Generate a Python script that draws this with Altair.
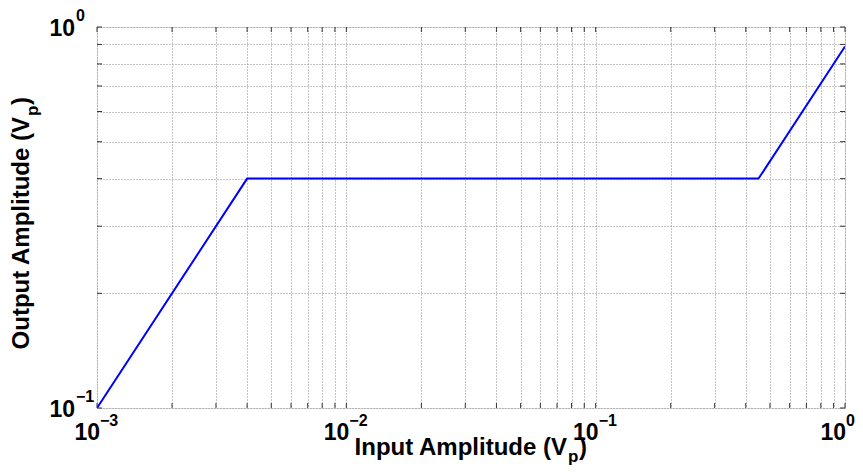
import altair as alt
import pandas as pd

# curve
x_vals = [0.001, 0.004, 0.45, 1.0]
y_vals = [0.1, 0.4, 0.4, 0.889]

# grid / tick positions
x_grid = [0.001, 0.002, 0.003, 0.004, 0.005, 0.006, 0.007, 0.008, 0.009,
          0.01, 0.02, 0.03, 0.04, 0.05, 0.06, 0.07, 0.08, 0.09,
          0.1, 0.2, 0.3, 0.4, 0.5, 0.6, 0.7, 0.8, 0.9, 1.0]
y_grid = [0.1, 0.2, 0.3, 0.4, 0.5, 0.6, 0.7, 0.8, 0.9, 1.0]

# tick labels (base 10 with exponent)
x_lab_neg = [0.001, 0.01, 0.1]
x_exp_neg = ["\u22123", "\u22122", "\u22121"]
x_lab_zero = [1.0]
x_exp_zero = ["0"]
y_lab = [0.1, 1.0]
y_exp = ["\u22121", "0"]

# axis titles (main part, subscript, closing bracket)
x_title = ["Input Amplitude (V", "p", ")"]
y_title = ["Output Amplitude (V", "p", ")"]

W, H = 748, 381
FONT = "Liberation Sans"

line_df = pd.DataFrame({"x": x_vals, "y": y_vals})
xs = alt.Scale(type="log", domain=[0.001, 1.0], nice=False)
ys = alt.Scale(type="log", domain=[0.1, 1.0], nice=False)

grid_style = dict(labels=False, ticks=False, domain=False, grid=True,
                  gridColor="#8a8a8a", gridDash=[1, 2], gridWidth=1, title=None)
x_axis = alt.Axis(values=x_grid, **grid_style)
y_axis = alt.Axis(values=y_grid, **grid_style)

line = alt.Chart(line_df).mark_line(color="#0000ff", strokeWidth=2, clip=True).encode(
    x=alt.X("x:Q", scale=xs, axis=x_axis),
    y=alt.Y("y:Q", scale=ys, axis=y_axis),
)

xg = pd.DataFrame({"x": x_grid})
yg = pd.DataFrame({"y": y_grid})
tick_style = dict(color="#333333", strokeWidth=1)
xt_bot = alt.Chart(xg).mark_rule(**tick_style).encode(
    x=alt.X("x:Q", scale=xs), y=alt.value(H - 5), y2=alt.value(H))
xt_top = alt.Chart(xg).mark_rule(**tick_style).encode(
    x=alt.X("x:Q", scale=xs), y=alt.value(0), y2=alt.value(5))
yt_left = alt.Chart(yg).mark_rule(**tick_style).encode(
    y=alt.Y("y:Q", scale=ys), x=alt.value(0), x2=alt.value(5))
yt_right = alt.Chart(yg).mark_rule(**tick_style).encode(
    y=alt.Y("y:Q", scale=ys), x=alt.value(W - 5), x2=alt.value(W))

base_txt = dict(font=FONT, fontWeight="bold", color="black")
BIG, EXP = 23, 16

xneg = pd.DataFrame({"x": x_lab_neg, "e": x_exp_neg, "b": ["10"] * 3})
xzero = pd.DataFrame({"x": x_lab_zero, "e": x_exp_zero, "b": ["10"]})

xl_neg_b = alt.Chart(xneg).mark_text(align="right", baseline="alphabetic", fontSize=BIG, dx=3, **base_txt).encode(
    x=alt.X("x:Q", scale=xs), y=alt.value(H + 32), text="b:N")
xl_neg_e = alt.Chart(xneg).mark_text(align="left", baseline="alphabetic", fontSize=EXP, dx=3, **base_txt).encode(
    x=alt.X("x:Q", scale=xs), y=alt.value(H + 18), text="e:N")
xl_zero_b = alt.Chart(xzero).mark_text(align="right", baseline="alphabetic", fontSize=BIG, dx=1, **base_txt).encode(
    x=alt.X("x:Q", scale=xs), y=alt.value(H + 32), text="b:N")
xl_zero_e = alt.Chart(xzero).mark_text(align="left", baseline="alphabetic", fontSize=EXP, dx=1, **base_txt).encode(
    x=alt.X("x:Q", scale=xs), y=alt.value(H + 18), text="e:N")

ylab = pd.DataFrame({"y": y_lab, "e": y_exp, "b": ["10"] * 2})
yl_b = alt.Chart(ylab).mark_text(align="right", baseline="alphabetic", fontSize=BIG, dy=8.5, **base_txt).encode(
    y=alt.Y("y:Q", scale=ys), x=alt.value(-22), text="b:N")
yl_e = alt.Chart(ylab).mark_text(align="left", baseline="alphabetic", fontSize=EXP, dy=-6, **base_txt).encode(
    y=alt.Y("y:Q", scale=ys), x=alt.value(-21), text="e:N")

# x title pieces
TT, SUB = 24, 17
one = pd.DataFrame({"k": [0]})
XT_END = 470  # end of "(V" in plot coords
XT_Y = H + 47
xt1 = alt.Chart(one).mark_text(align="right", baseline="alphabetic", fontSize=TT, **base_txt).encode(
    x=alt.value(XT_END), y=alt.value(XT_Y), text=alt.value(x_title[0]))
xt2 = alt.Chart(one).mark_text(align="left", baseline="alphabetic", fontSize=SUB, **base_txt).encode(
    x=alt.value(XT_END + 1), y=alt.value(XT_Y + 7), text=alt.value(x_title[1]))
xt3 = alt.Chart(one).mark_text(align="left", baseline="alphabetic", fontSize=TT, **base_txt).encode(
    x=alt.value(XT_END + 12), y=alt.value(XT_Y), text=alt.value(x_title[2]))

# y title pieces (rotated)
YT_X = -68
YT_END = 90
yt1 = alt.Chart(one).mark_text(align="right", baseline="alphabetic", fontSize=TT, angle=270, **base_txt).encode(
    x=alt.value(YT_X), y=alt.value(YT_END), text=alt.value(y_title[0]))
yt2 = alt.Chart(one).mark_text(align="left", baseline="alphabetic", fontSize=SUB, angle=270, **base_txt).encode(
    x=alt.value(YT_X + 9), y=alt.value(YT_END - 1), text=alt.value(y_title[1]))
yt3 = alt.Chart(one).mark_text(align="left", baseline="alphabetic", fontSize=TT, angle=270, **base_txt).encode(
    x=alt.value(YT_X), y=alt.value(YT_END - 12), text=alt.value(y_title[2]))

chart = alt.layer(
    line, xt_bot, xt_top, yt_left, yt_right,
    xl_neg_b, xl_neg_e, xl_zero_b, xl_zero_e, yl_b, yl_e,
    xt1, xt2, xt3, yt1, yt2, yt3,
).properties(
    width=W, height=H,
    autosize=alt.AutoSizeParams(type="none"),
    padding={"left": 89, "top": 19, "right": 10, "bottom": 58},
).configure_view(stroke="black", strokeWidth=2).configure(background="white")

chart.save("out.html", embed_options={"renderer": "svg", "actions": False})
